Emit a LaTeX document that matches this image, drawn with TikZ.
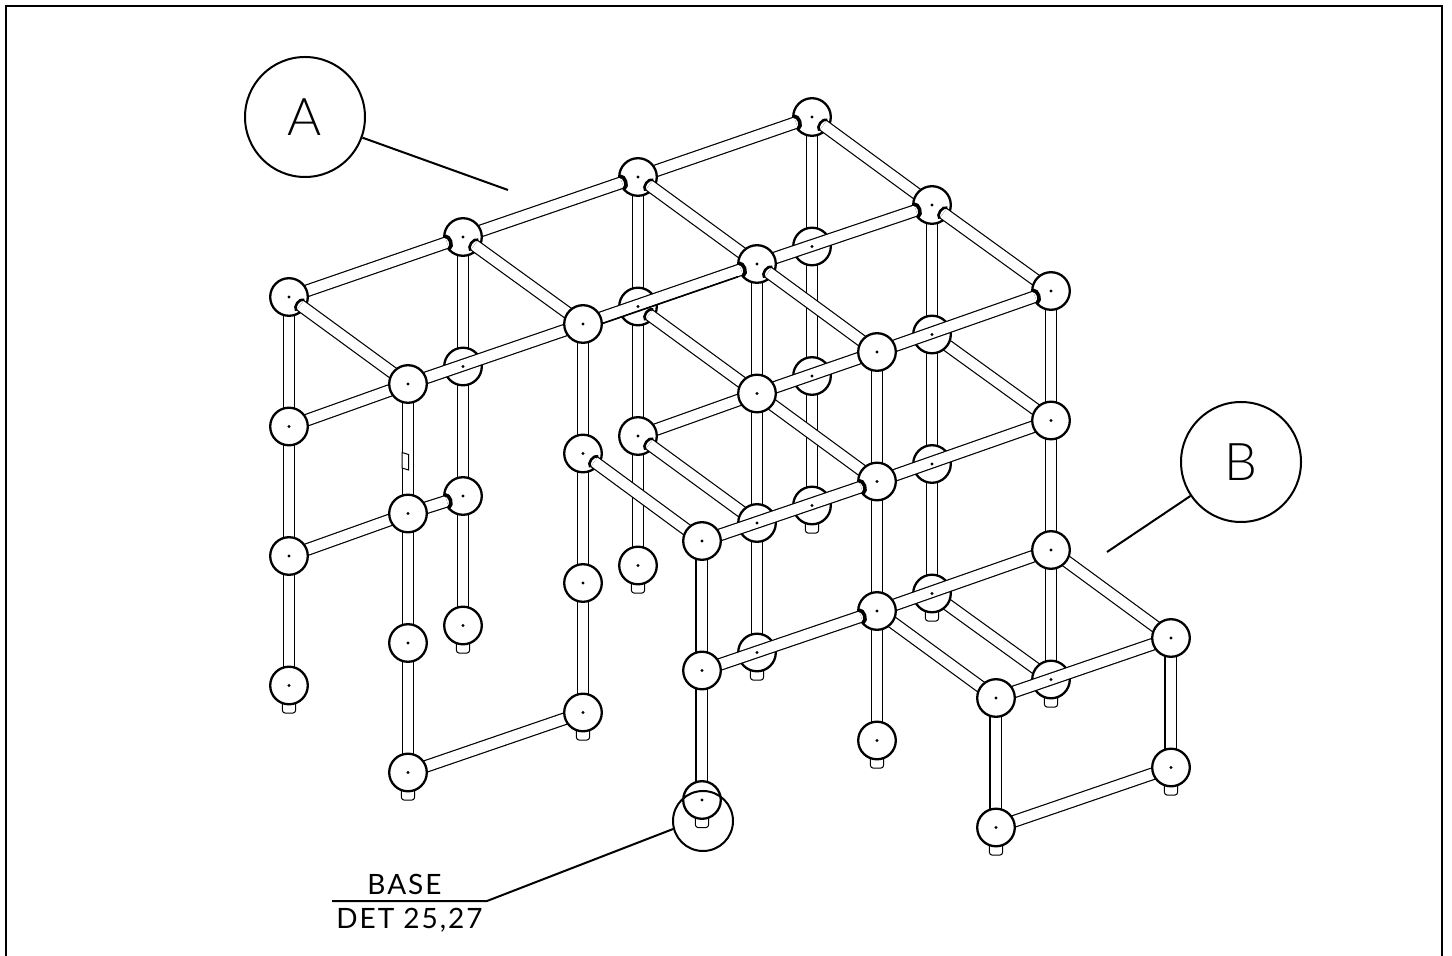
\documentclass[tikz,border=0pt]{standalone}
\usepackage{fontspec}
\setmainfont{Lato}[UprightFont=* Light]
\newfontfamily\notefont{Lato}[LetterSpace=7]
\usetikzlibrary{calc}
\tikzset{
    %Define style for tubes
    pipe/.style={
           draw=black,
           line width=0.6pt,
           double=white,
           double distance=5.2pt},
    %Define style for joints
    ball/.style={
           circle,
           draw=black, line width=1.15pt,
           fill=white,
           inner sep=0pt,
           minimum size=18.8pt},
    foot/.style={
           rectangle,
           rounded corners=1.5pt,
           draw=black, line width=0.5pt,
           fill=white,
           minimum width=5.8pt,
           minimum height=6.4pt},
    %Dark rim where a tube enters a joint
    sock/.style={
           draw=black,
           line width=1.3pt},
    %Define style for callouts
    callout/.style={
           circle,
           draw=black, line width=1pt,
           inner sep=0pt,
           font=\fontsize{26}{26}\selectfont},
    leader/.style={
           draw=black,
           line width=1pt},
    note/.style={
           inner sep=0pt,
           anchor=base,
           font=\notefont\fontsize{14}{14}\selectfont}
}
% one post: tube, its left edge, foot, joints
\newcommand{\drawpost}[3][0.6pt]{
    \draw[pipe] (#20) -- (#2#3);
    \draw[line width=#1] ($(#20)+(-5.8,0)$) -- ($(#2#3)+(-5.8,0)$);
    \node[foot] (foot#2) at ($(#2#3)+(0,21)$) {};
    \foreach \lev in {0,...,#3}
        \node[ball] (ball#2\lev) at (#2\lev) {};
}
% tube with its far end in a socket of joint #2, near end at #3
\newcommand{\sockpipe}[3][7pt]{
    \coordinate (sk#2#3) at ($(#2)!#1!(#3)$);
    \draw[pipe] (sk#2#3) -- (#3);
    \draw[sock] ($(sk#2#3)!3.4pt!90:(#3)$) to[bend right=75] ($(sk#2#3)!3.4pt!-90:(#3)$);
}
% same, entering at the side of the joint: heavier rim
\newcommand{\sidepipe}[2]{
    \begingroup
    \tikzset{sock/.append style={line width=1.8pt}}
    \sockpipe[8.5pt]{#1}{#2}
    \endgroup
}
\begin{document}
\begin{tikzpicture}[x=0.5pt,y=-0.5pt]
    \useasboundingbox (0,0) rectangle (1452,956);
    \draw[line width=1.2pt] (6,956) -- (6,6) -- (1442,6) -- (1442,956);
    % post positions
    \foreach \nm/\px/\py/\top in {a/812/117/3,b/638/177/3,c/932/205/3,d/463/237/3,
        e/757/264/3,f/1051/291/3,g/289/297/3,h/583/324/3,i/877/352/3,k/408/384/3,
        l/702/541/2,m/996/698/1,j/1171/638/1}
        \foreach \lev in {0,...,\top}
            \coordinate (\nm\lev) at (\px,\py+\lev*129.5);
    % back to front
    \drawpost{a}{3}
    \sidepipe{a0}{b0}
    \sockpipe{a0}{c0}
    \draw[pipe] (b2) -- (e1);
    \drawpost{b}{3}
    \sidepipe{b0}{d0}
    \sockpipe{b0}{e0}
    \sockpipe{b1}{e1}
    \sockpipe{b2}{e2}
    \draw[pipe] (c1) -- (f1);
    \draw[pipe] (c3) -- (f3);
    \drawpost{c}{3}
    \sockpipe{c0}{f0}
    \sidepipe{c0}{e0}
    \drawpost{d}{3}
    \sidepipe{d0}{g0}
    \sockpipe{d0}{h0}
    \sidepipe{d2}{k1}
    \draw[pipe] (e1) -- (i1);
    \draw[pipe] (e1) -- (i0);
    \drawpost{e}{3}
    \sockpipe{e0}{i0}
    \sidepipe{e0}{h0}
    \draw[line width=0.8pt] ($(e0)!0.12!(h0)+(1.9,5.5)$) -- ($(h0)+(1.9,5.5)$);
    \draw[pipe] (i1) -- (f1);
    \draw[pipe] (i2) -- (f2);
    \draw[pipe] (f2) -- (j0);
    \drawpost{f}{3}
    \sidepipe{f0}{i0}
    \draw[pipe] (i2) -- (m0);
    \drawpost{i}{3}
    \sidepipe{i1}{l0}
    \sidepipe{i2}{l1}
    \draw[pipe] (g1) -- (k0);
    \draw[pipe] (g2) -- (k1);
    \drawpost{g}{3}
    \sockpipe{g0}{k0}
    \draw[pipe] (k0) -- (h0);
    \draw[pipe] (k3) -- (h3);
    \drawpost{h}{3}
    \sockpipe{h1}{l0}
    \drawpost{k}{3}
    \draw[line width=0.5pt,fill=white] (402,452.5) -- (408.5,454.5) -- (408.5,470) -- (402,468) -- cycle;
    \drawpost[0.9pt]{l}{2}
    \draw[pipe] (m0) -- (j0);
    \draw[pipe] (m1) -- (j1);
    \drawpost[0.9pt]{j}{1}
    \drawpost[0.9pt]{m}{1}
    % centre marks
    \foreach \nm/\top in {a/3,b/3,c/3,d/3,e/3,f/3,g/3,h/3,i/3,k/3,l/2,m/1,j/1}
        \foreach \lev in {0,...,\top}
            \fill (\nm\lev) circle (1.6);
    % callouts
    \node[callout,minimum size=60pt] (calloutA) at (305,117) {A};
    \coordinate (tipA) at (508,190);
    \draw[leader] (calloutA) -- (tipA);
    \node[callout,minimum size=60pt] (calloutB) at (1241,462) {B};
    \coordinate (tipB) at (1107,552);
    \draw[leader] (calloutB) -- (tipB);
    \node[callout,minimum size=30pt] (ringbase) at (703,821) {};
    \coordinate (noteknee) at (487,901);
    \coordinate (noteend) at (332,901);
    \draw[leader] (ringbase.195) -- (noteknee) -- (noteend);
    \node[note] (notetop) at (404.5,894) {BASE};
    \node[note] (notebot) at (409.5,928) {DET 25,27};
\end{tikzpicture}
\end{document}
